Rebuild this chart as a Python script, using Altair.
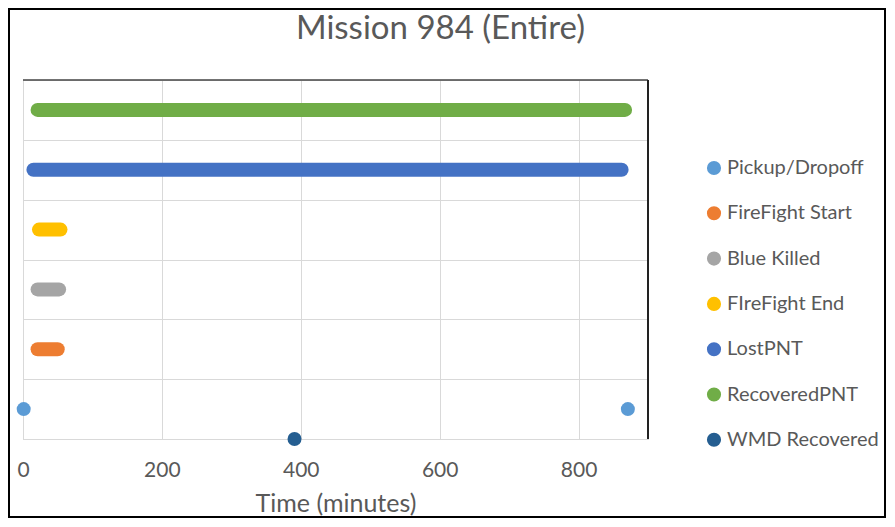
import altair as alt
import pandas as pd

# ---- data ----
series = ["Pickup/Dropoff", "FireFight Start", "Blue Killed", "FIreFight End",
          "LostPNT", "RecoveredPNT", "WMD Recovered"]
colors = ["#5B9BD5", "#ED7D31", "#A5A5A5", "#FFC000", "#4472C4", "#70AD47", "#255E91"]

# continuous runs of events (start / end minute, row level)
range_series = ["FireFight Start", "Blue Killed", "FIreFight End", "LostPNT", "RecoveredPNT"]
range_start = [21, 21, 23, 15, 21]
range_end = [50, 52, 54, 862, 867]
range_row = [1.5, 2.5, 3.5, 4.5, 5.5]

# single events
point_series = ["Pickup/Dropoff", "Pickup/Dropoff", "WMD Recovered"]
point_time = [1, 871, 391]
point_row = [0.5, 0.5, 0]

x_ticks = [0, 200, 400, 600, 800]
y_grid = [0, 1, 2, 3, 4, 5, 6]

ranges = pd.DataFrame({"series": range_series, "start": range_start,
                       "end": range_end, "row": range_row})
points = pd.DataFrame({"series": point_series, "time": point_time, "row": point_row})

FONT = "Lato"
GREY = "#595959"
W, H = 625, 359

xscale = alt.Scale(domain=[0, 900], nice=False, zero=False)
yscale = alt.Scale(domain=[0, 6], nice=False)
cscale = alt.Scale(domain=series, range=colors)

xaxis = alt.Axis(values=x_ticks, title="Time (minutes)", grid=True, gridColor="#d9d9d9",
                 domainColor="#d9d9d9", ticks=False, labelFlush=False, labelFont=FONT,
                 labelFontSize=21, labelColor=GREY, labelPadding=20, titleFont=FONT,
                 titleFontSize=25, titleFontWeight="normal", titleColor=GREY,
                 titleBaseline="alphabetic", titleY=72)
yaxis = alt.Axis(values=y_grid, title=None, labels=False, ticks=False, grid=True,
                 gridColor="#d9d9d9", domainColor="#d9d9d9")

legend = alt.Legend(
    title=None, orient="none", legendX=681, legendY=78, symbolType="circle",
    symbolSize=200, symbolStrokeWidth=0, labelFont=FONT, labelFontSize=20,
    labelColor=GREY, rowPadding=25.3, labelOffset=3, labelLimit=300, values=series)

rules = alt.Chart(ranges).mark_rule(strokeWidth=14, strokeCap="round").encode(
    x=alt.X("start:Q", scale=xscale, axis=xaxis),
    x2="end:Q",
    y=alt.Y("row:Q", scale=yscale, axis=yaxis),
    color=alt.Color("series:N", scale=cscale, legend=legend),
)

dots = alt.Chart(points).mark_circle(size=196, opacity=1).encode(
    x=alt.X("time:Q", scale=xscale, axis=xaxis),
    y=alt.Y("row:Q", scale=yscale, axis=yaxis),
    color=alt.Color("series:N", scale=cscale, legend=legend),
)

deco = pd.DataFrame({"k": [0]})
top_border = alt.Chart(deco).mark_rule(color="#444444", strokeWidth=1.5).encode(
    x=alt.value(0), x2=alt.value(W), y=alt.value(0))
right_border = alt.Chart(deco).mark_rule(color="#222222", strokeWidth=2).encode(
    x=alt.value(W), y=alt.value(0), y2=alt.value(H))
frame = alt.Chart(deco).mark_rect(fill=None, stroke="#000000", strokeWidth=2).encode(
    x=alt.value(-14), x2=alt.value(862), y=alt.value(-71), y2=alt.value(437))

chart = alt.layer(dots, rules, top_border, right_border, frame).properties(
    width=W, height=H,
    title=alt.TitleParams("Mission 984 (Entire)", font=FONT, fontSize=33,
                          fontWeight="normal", color=GREY, anchor="middle",
                          offset=36, dx=105, dy=74),
    autosize=alt.AutoSizeParams(type="none"),
    padding={"left": 15, "top": 72, "right": 239, "bottom": 80},
).configure_view(stroke=None).configure(background="white")

chart.save("out.html", embed_options={"renderer": "svg", "actions": False})
